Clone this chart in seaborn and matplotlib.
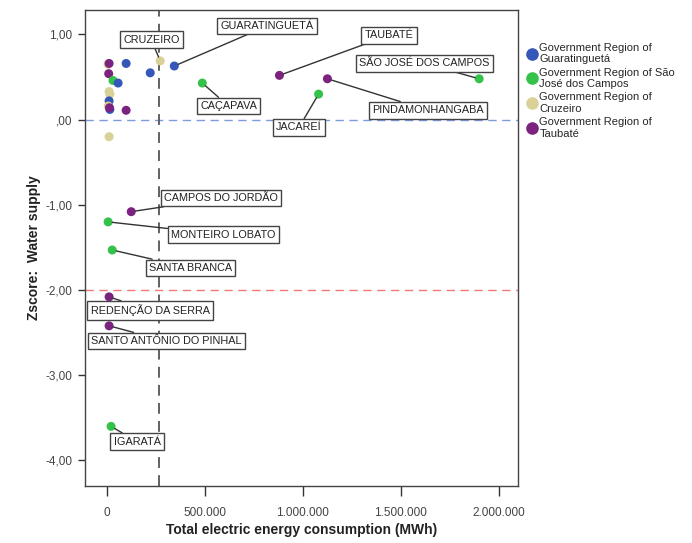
import numpy as np
import pandas as pd
import matplotlib
matplotlib.use("Agg")
import matplotlib.pyplot as plt
import seaborn as sns

# data
regions = [
    "Guaratinguetá",
    "São José dos Campos",
    "Cruzeiro",
    "Taubaté",
]
region_labels = [
    "Government Region of\nGuaratinguetá",
    "Government Region of São\nJosé dos Campos",
    "Government Region of\nCruzeiro",
    "Government Region of\nTaubaté",
]

# labelled municipalities
names = [
    "GUARATINGUETÁ", "CRUZEIRO", "CAÇAPAVA", "TAUBATÉ", "PINDAMONHANGABA",
    "JACAREÍ", "SÃO JOSÉ DOS CAMPOS", "CAMPOS DO JORDÃO", "MONTEIRO LOBATO",
    "SANTA BRANCA", "REDENÇÃO DA SERRA", "SANTO ANTÔNIO DO PINHAL", "IGARATÁ",
]
energy = [343000, 271000, 486000, 880000, 1125000,
          1080000, 1900000, 123000, 5000,
          26000, 10000, 10000, 20000]
zscore = [0.63, 0.69, 0.43, 0.52, 0.48,
          0.30, 0.48, -1.08, -1.20,
          -1.53, -2.08, -2.42, -3.60]
region = ["Guaratinguetá", "Cruzeiro", "São José dos Campos", "Taubaté", "Taubaté",
          "São José dos Campos", "São José dos Campos", "Taubaté", "São José dos Campos",
          "São José dos Campos", "Taubaté", "Taubaté", "São José dos Campos"]

# unlabelled municipalities
other_energy = [5000, 10000, 8000, 97000, 220000, 30000, 56000, 10000, 14000,
                10000, 6000, 14000, 12000, 97000, 10000]
other_zscore = [0.65, 0.66, 0.54, 0.66, 0.55, 0.46, 0.43, 0.33, 0.30,
                0.22, 0.16, 0.12, 0.14, 0.11, -0.20]
other_region = ["Cruzeiro", "Taubaté", "Taubaté", "Guaratinguetá", "Guaratinguetá",
                "São José dos Campos", "Guaratinguetá", "Cruzeiro", "Cruzeiro",
                "Guaratinguetá", "Cruzeiro", "Guaratinguetá", "Taubaté", "Taubaté",
                "Cruzeiro"]

energy_cut = 266000

# where each label box sits (data coords)
label_pos = {
    "GUARATINGUETÁ": (818000, 1.10),
    "CRUZEIRO": (225000, 0.94),
    "CAÇAPAVA": (620000, 0.16),
    "TAUBATÉ": (1440000, 0.99),
    "PINDAMONHANGABA": (1640000, 0.11),
    "JACAREÍ": (980000, -0.09),
    "SÃO JOSÉ DOS CAMPOS": (1620000, 0.66),
    "CAMPOS DO JORDÃO": (583000, -0.92),
    "MONTEIRO LOBATO": (594000, -1.35),
    "SANTA BRANCA": (425000, -1.74),
    "REDENÇÃO DA SERRA": (220000, -2.24),
    "SANTO ANTÔNIO DO PINHAL": (302000, -2.60),
    "IGARATÁ": (153000, -3.78),
}

df = pd.DataFrame({
    "energy": energy + other_energy,
    "zscore": zscore + other_zscore,
    "region": region + other_region,
})

sns.set_theme(style="white")
plt.rcParams["font.family"] = ["Liberation Sans", "DejaVu Sans"]

palette = {
    "Guaratinguetá": "#3557b7",
    "São José dos Campos": "#35c24a",
    "Cruzeiro": "#d9d198",
    "Taubaté": "#7b237f",
}

fig = plt.figure(figsize=(6.92, 5.43), dpi=100)
ax = fig.add_axes([0.123, 0.105, 0.626, 0.877])

ax.axhline(0, color="#7f9be0", lw=1, ls=(0, (6, 4)), zorder=1)
ax.axhline(-2, color="#f07a7a", lw=1, ls=(0, (6, 4)), zorder=1)
ax.axvline(energy_cut, color="#555555", lw=1.3, ls=(0, (6, 4)), zorder=1)

sns.scatterplot(data=df, x="energy", y="zscore", hue="region", hue_order=regions,
                palette=palette, s=42, edgecolor="none", ax=ax, zorder=3)

for n, x, y in zip(names, energy, zscore):
    tx, ty = label_pos[n]
    ax.annotate(n, xy=(x, y), xytext=(tx, ty), ha="center", va="center",
                fontsize=7.8, color="#222222", zorder=4,
                bbox=dict(boxstyle="square,pad=0.3", fc="white", ec="#444444", lw=1),
                arrowprops=dict(arrowstyle="-", color="#333333", lw=1,
                                shrinkA=0, shrinkB=3))

ax.set_xlim(-112500, 2100000)
ax.set_ylim(-4.30, 1.29)
ax.set_xticks([0, 500000, 1000000, 1500000, 2000000])
ax.set_xticklabels(["0", "500.000", "1.000.000", "1.500.000", "2.000.000"])
ax.set_yticks([1, 0, -1, -2, -3, -4])
ax.set_yticklabels(["1,00", ",00", "-1,00", "-2,00", "-3,00", "-4,00"])
ax.tick_params(axis="both", direction="out", width=1, color="#333333",
               labelsize=8.5, labelcolor="#444444", bottom=True, left=True)
ax.tick_params(axis="x", length=7, pad=8)
ax.tick_params(axis="y", length=5, pad=4)
for sp in ax.spines.values():
    sp.set_color("#444444")
    sp.set_linewidth(1)

ax.set_xlabel("Total electric energy consumption (MWh)", fontsize=10,
              fontweight="bold", color="#222222", labelpad=3)
ax.set_ylabel("Zscore:  Water supply", fontsize=10, fontweight="bold",
              color="#222222", labelpad=3)

handles, _ = ax.get_legend_handles_labels()
ax.legend(handles, region_labels, loc="upper left", bbox_to_anchor=(1.0, 0.945),
          frameon=False, fontsize=8, handletextpad=0.1, labelspacing=0.3,
          borderaxespad=0.2, markerscale=1.4, handlelength=1.2)

fig.savefig("out.png", dpi=100)
